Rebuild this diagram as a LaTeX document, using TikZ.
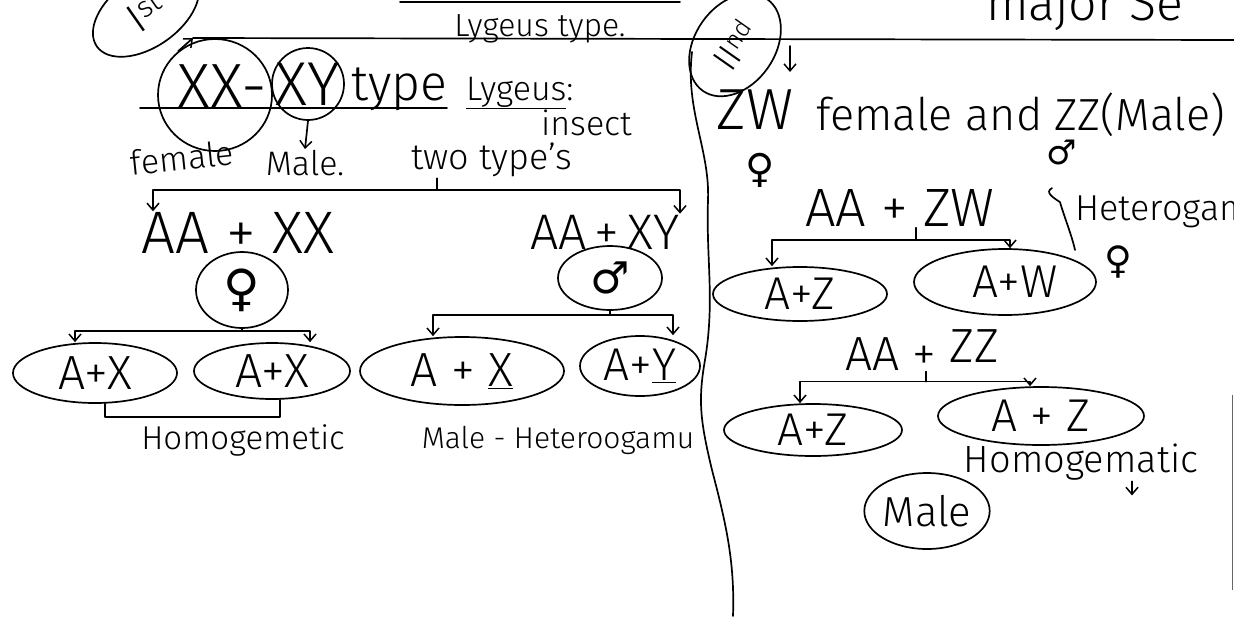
\documentclass[tikz,border=0pt]{standalone}
\usepackage{fontspec}
\setmainfont{Fira Sans Light}
\newfontfamily\symf{DejaVu Sans}
\usetikzlibrary{shapes.geometric,arrows.meta,calc}
\newcommand\fsz[1]{\fontsize{#1pt}{#1pt}\selectfont}
\begin{document}
\begin{tikzpicture}[x=1pt,y=-1pt,
  hand/.style={line width=1.7pt, line cap=round, line join=round},
  arr/.style={hand,-{Straight Barb[length=7pt,width=12pt,line width=1.5pt]}},
  oval/.style={draw, ellipse, line width=1.7pt, inner sep=0pt},
  lbl/.style={inner sep=1pt}]
\fill[white] (0,0) rectangle (1234,616);
\useasboundingbox (0,0) rectangle (1234,616);

% ---------- top strip ----------
\node[oval, rotate=35, minimum width=120, minimum height=70, font=\fsz{42}] (first) at (146,12) {I\textsuperscript{st}};
\draw[hand] (400,2) -- (680,2);
\node[lbl, anchor=base west, font=\fsz{50}] (topr) at (985,20) {major Se};

\node[oval, minimum width=114, minimum height=112] (xxc) at (215,95) {};
\coordinate (tlL) at (193,38);
\coordinate (tlR) at (1234,40);
\draw[hand] (tlL) -- (tlR);
\draw[arr] (xxc.130) -- (tlL);
\node[lbl, anchor=base, font=\fsz{32}] (lygt) at (540,36) {Lygeus type.};

% ---------- XX - XY type ----------
\node[lbl, anchor=base west, font=\fsz{64}] (xx) at (176,108) {XX-};
\node[oval, inner sep=-9pt, minimum width=72, minimum height=72, font=\fsz{62}] (xy) at (308,84) {XY};
\node[lbl, anchor=base west, font=\fsz{50}] (type) at (350,100) {type};
\draw[hand] (140,108) -- (447,108);
\node[lbl, font=\fsz{34}, rotate=6] (fem) at (182,158) {female};
\node[lbl, font=\fsz{34}] (male1) at (305,163) {Male.};
\draw[arr] (xy.south) -- (male1.north);
\node[lbl, anchor=base west, font=\fsz{34}] (lyg) at (465,100) {\underline{Lygeus}:};
\node[lbl, anchor=base west, font=\fsz{34}] (ins) at (540,135) {insect};
\node[lbl, font=\fsz{36}] (two) at (492,160) {two type's};

% ---------- AA + XX / AA + XY ----------
\node[lbl, font=\fsz{60}] (axx) at (238,233) {AA + XX};
\node[lbl, font=\fsz{50}] (axy) at (605,232) {AA\,+\,XY};
\coordinate (j1) at (437,190);
\draw[hand] (two.south -| j1) -- (j1);
\draw[arr] (j1) -| ([xshift=-85]axx.north);
\draw[arr] (j1) -| ([xshift=75]axy.north);

\node[oval, minimum width=92, minimum height=76, font=\symf\fsz{50}] (fc) at (242,290) {♀};
\node[oval, minimum width=164, minimum height=60, font=\fsz{48}] (ax1) at (95,373) {A+X};
\node[oval, minimum width=156, minimum height=56, font=\fsz{48}] (ax2) at (272,371) {A+X};
\coordinate (j2) at ($(fc.south)+(0,2)$);
\draw[hand] (fc.south) -- (j2);
\draw[arr] (j2) -| ([xshift=-20]ax1.north);
\draw[arr] (j2) -| ([xshift=38]ax2.north);
\draw[hand] ([xshift=10]ax1.south) -- ++(0,13) -| ([xshift=8]ax2.south);
\node[lbl, font=\fsz{33}] (hom1) at (243,440) {Homogemetic};

\node[oval, minimum width=104, minimum height=64, font=\symf\fsz{44}] (mc) at (610,278) {♂};
\node[oval, minimum width=204, minimum height=68, font=\fsz{48}] (bx1) at (462,371) {A + \underline{X}};
\node[oval, minimum width=120, minimum height=60, font=\fsz{46}] (by1) at (640,366) {A+\underline{Y}};
\coordinate (j3) at ($(mc.south)+(0,4)$);
\draw[hand] (mc.south) -- (j3);
\draw[arr] (j3) -| ([xshift=-29]bx1.north);
\draw[arr] (j3) -| ([xshift=33]by1.north);
\node[lbl, font=\fsz{30}] (het1) at (558,440) {Male - Heteroogamu};

% ---------- divider ----------
\draw[hand] (692,52) .. controls (685,110) and (710,150) .. (708,200)
  .. controls (706,260) and (715,300) .. (705,360)
  .. controls (698,400) and (700,420) .. (712,470)
  .. controls (725,520) and (735,560) .. (733,616);

% ---------- II nd ----------
\node[oval, rotate=55, minimum width=112, minimum height=80, font=\fsz{36}] (sec) at (735,45) {II\textsuperscript{nd}};
\coordinate (a2) at (790,46);
\draw[arr] (a2) -- ++(0,26);
\node[lbl, font=\fsz{58}] (zw) at (755,110) {ZW};
\node[lbl, anchor=base west, font=\fsz{45}] (zwt) at (815,130) {female and ZZ(Male)};
\node[lbl, font=\symf\fsz{40}] (v2) at (760,170) {♀};
\node[lbl, font=\symf\fsz{34}] (m2) at (1062,152) {♂};

\node[lbl, font=\fsz{54}] (azw) at (900,208) {AA + ZW};
\node[lbl, anchor=base west, font=\fsz{36}] (het2) at (1074,220) {Heterogam};
\draw[hand] ([xshift=-22,yshift=6]het2.north west) .. controls +(-8,4) and +(-6,-4) .. ([xshift=-14,yshift=-8]het2.north west)
  .. controls +(4,14) and +(-3,-14) .. (1075,250);
\node[lbl, font=\symf\fsz{38}] (v3) at (1118,262) {♀};
\node[oval, minimum width=174, minimum height=54, font=\fsz{46}] (az1) at (800,294) {A+Z};
\node[oval, minimum width=182, minimum height=66, font=\fsz{46}] (aw) at (1005,282) {\hspace{20pt}A+W};
\coordinate (j4) at ($(azw.south)+(16,12)$);
\draw[hand] ([xshift=16]azw.south) -- (j4);
\draw[arr] (j4) -| ([xshift=-28]az1.north);
\draw[arr] (j4) -| ([xshift=5]aw.north);

\node[lbl, font=\fsz{48}] (azz) at (922,350) {AA + \raisebox{8pt}{ZZ}};
\node[oval, minimum width=178, minimum height=52, font=\fsz{46}] (az2) at (813,430) {A+Z};
\node[oval, minimum width=206, minimum height=58, font=\fsz{46}] (az3) at (1041,416) {A + Z};
\coordinate (j5) at ($(azz.south)+(4,10)$);
\draw[hand] ([xshift=4]azz.south) -- (j5);
\draw[arr] (j5) -| ([xshift=-13]az2.north);
\draw[arr] (j5) -| ([xshift=-11]az3.north);
\node[lbl, font=\fsz{38}] (hom2) at (1081,462) {Homogematic};
\draw[arr] ([xshift=51]hom2.south) -- ++(0,14);
\node[oval, minimum width=124, minimum height=76, font=\fsz{42}] (male2) at (927,511) {Male};

\draw[line width=1pt, black!60] (1232,395) -- (1232,590);
\end{tikzpicture}
\end{document}
